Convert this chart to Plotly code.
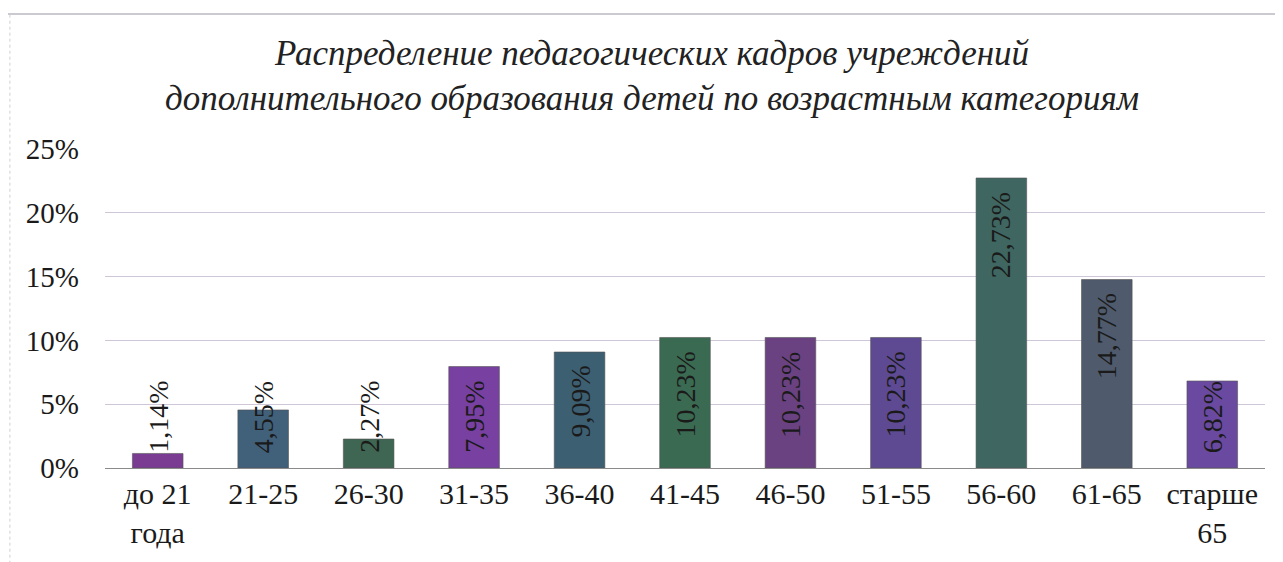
import plotly.graph_objects as go

categories = ["до 21<br>года", "21-25", "26-30", "31-35", "36-40", "41-45",
              "46-50", "51-55", "56-60", "61-65", "старше<br>65"]
values = [1.14, 4.55, 2.27, 7.95, 9.09, 10.23, 10.23, 10.23, 22.73, 14.77, 6.82]
labels = ["1,14%", "4,55%", "2,27%", "7,95%", "9,09%", "10,23%", "10,23%",
          "10,23%", "22,73%", "14,77%", "6,82%"]
colors = ["#7a3c92", "#41607a", "#3f6652", "#7840a0", "#3d5f72", "#3b6a52",
          "#6a4282", "#5e4a92", "#3f6660", "#4f5a6c", "#6a4aa0"]
y_ticks = [0, 5, 10, 15, 20, 25]
y_tick_text = ["0%", "5%", "10%", "15%", "20%", "25%"]
title_lines = ["Распределение педагогических кадров учреждений",
               "дополнительного образования детей по возрастным категориям"]

W, H = 1283, 562
L, R, T, B = 97, 26, 141, 102
px_per_unit = (H - T - B) / 25.0
text_len_px = 78

fig = go.Figure()
fig.add_trace(go.Bar(
    x=categories, y=values,
    marker=dict(color=colors, line=dict(color="#555555", width=0.6)),
    width=0.48,
    hoverinfo="skip",
))

annotations = []
for c, v, t in zip(categories, values, labels):
    if v * px_per_unit >= text_len_px + 14:
        annotations.append(dict(x=c, y=v, xref="x", yref="y", text=t, textangle=-90,
                                yanchor="top", xanchor="center", yshift=-12, showarrow=False,
                                font=dict(family="Liberation Serif", size=28, color="#1a1a1a")))
    else:
        annotations.append(dict(x=c, y=0, xref="x", yref="y", text=t, textangle=-90,
                                yanchor="bottom", xanchor="center", yshift=13, showarrow=False,
                                font=dict(family="Liberation Serif", size=28, color="#1a1a1a")))

fig.update_layout(
    width=W, height=H,
    margin=dict(l=L, r=R, t=T, b=B),
    paper_bgcolor="white", plot_bgcolor="white",
    showlegend=False,
    title=dict(text="<i>" + "<br>".join(title_lines) + "</i>", x=0.502, xanchor="center",
               y=0.899, yanchor="middle",
               font=dict(family="Liberation Serif", size=35, color="#222222"),
               ),
    font=dict(family="Liberation Serif", size=28, color="#1a1a1a"),
    annotations=annotations,
    xaxis=dict(showgrid=False, showline=False, ticks="", tickfont=dict(size=30),
               ticklabelstandoff=5, fixedrange=True),
    yaxis=dict(range=[0, 25], tickvals=y_ticks, ticktext=y_tick_text,
               showgrid=True, gridcolor="#cfc6d8", gridwidth=1,
               zeroline=True, zerolinecolor="#8a8a8a", zerolinewidth=1,
               showline=False, ticks="", ticklabelstandoff=25,
               tickfont=dict(size=29)),
    shapes=[
        dict(type="line", xref="paper", yref="paper", x0=-0.09, x1=1.03,
             y0=1.423, y1=1.423, line=dict(color="#b8b8c0", width=1.5)),
        dict(type="line", xref="paper", yref="paper", x0=-0.082, x1=-0.082,
             y0=-0.3, y1=1.42, line=dict(color="#d0d0d0", width=1, dash="dot")),
    ],
)

fig.write_html("out.html")
